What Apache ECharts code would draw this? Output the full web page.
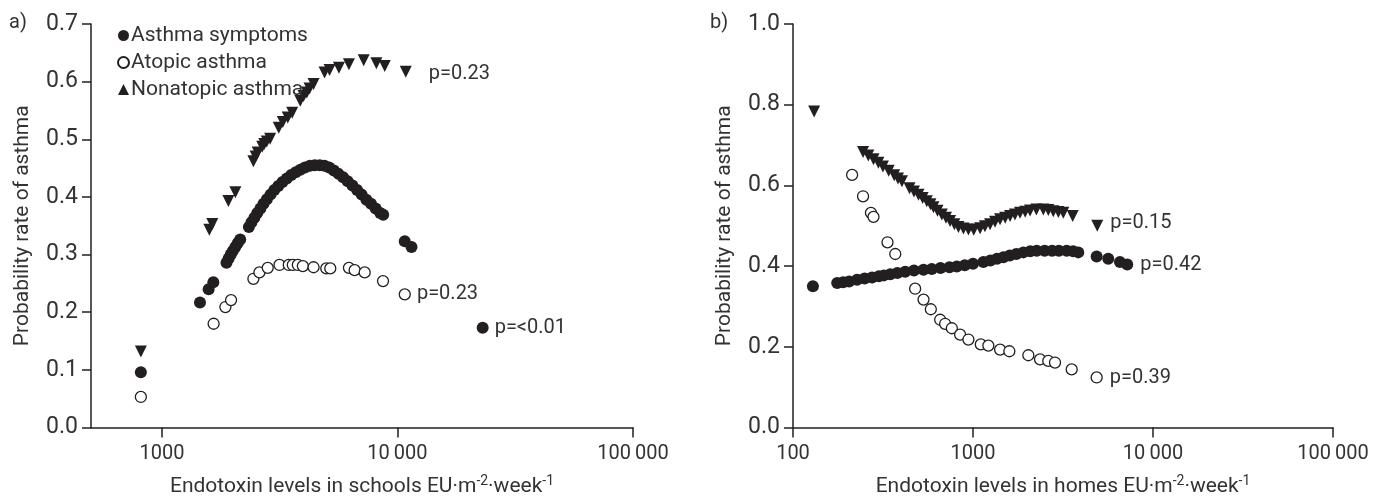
<!DOCTYPE html>
<html>
<head>
<meta charset="utf-8">
<script src="https://cdn.jsdelivr.net/npm/echarts@6/dist/echarts.min.js"></script>
<style>
  html, body { margin: 0; padding: 0; background: #fff; }
  #main { width: 1385px; height: 502px; }
</style>
</head>
<body>
<div id="main"></div>
<script>
// values: [endotoxin EU/m2/week, probability]
const schoolSymptoms = [
  [814, 0.096], [1451, 0.217], [1579, 0.240], [1653, 0.252],
  [1880, 0.286], [1920, 0.293], [1960, 0.300], [2000, 0.306], [2050, 0.313], [2100, 0.320], [2150, 0.326],
  [2340, 0.348], [2400, 0.356], [2470, 0.364], [2540, 0.372], [2620, 0.380], [2700, 0.388], [2790, 0.396],
  [2890, 0.404], [3000, 0.412], [3120, 0.419], [3250, 0.426], [3390, 0.432], [3540, 0.438], [3700, 0.443],
  [3870, 0.447], [4050, 0.451], [4250, 0.454], [4460, 0.455], [4680, 0.455], [4900, 0.454], [5130, 0.451],
  [5370, 0.446], [5620, 0.440], [5880, 0.434], [6150, 0.427], [6440, 0.420], [6740, 0.412], [7050, 0.404],
  [7380, 0.395], [7720, 0.388], [8080, 0.380], [8450, 0.372], [8700, 0.369],
  [10740, 0.323], [11470, 0.313], [23000, 0.173]
];
const schoolAtopic = [
  [814, 0.053], [1658, 0.180], [1860, 0.209], [1966, 0.221], [2446, 0.258], [2594, 0.269], [2814, 0.277],
  [3156, 0.282], [3457, 0.282], [3595, 0.282], [3776, 0.282], [3966, 0.280], [4404, 0.278], [4987, 0.276],
  [5186, 0.276], [6223, 0.277], [6580, 0.273], [7259, 0.269], [8684, 0.254], [10740, 0.231]
];
const schoolNonatopic = [
  [814, 0.132], [1590, 0.343], [1637, 0.353], [1915, 0.393], [2051, 0.408],
  [2446, 0.462], [2500, 0.470], [2551, 0.477], [2665, 0.487], [2720, 0.492], [2787, 0.496], [2881, 0.501],
  [3134, 0.520], [3260, 0.530], [3423, 0.538], [3574, 0.546], [3866, 0.567], [3993, 0.575], [4124, 0.581],
  [4235, 0.588], [4404, 0.596], [4905, 0.616], [5151, 0.620], [5643, 0.624], [6223, 0.630], [7189, 0.637],
  [8140, 0.632], [8831, 0.627], [10847, 0.617]
];
const homeSymptoms = [
  [129, 0.350], [176, 0.358], [190, 0.360], [205, 0.362], [227, 0.366], [250, 0.369], [275, 0.372],
  [300, 0.375], [320, 0.377], [347, 0.380], [380, 0.383], [420, 0.386], [470, 0.389], [531, 0.391],
  [590, 0.393], [660, 0.395], [740, 0.397], [813, 0.399], [900, 0.402], [1000, 0.406], [1142, 0.410],
  [1250, 0.414], [1360, 0.418], [1475, 0.422], [1600, 0.426], [1740, 0.430], [1905, 0.434], [2080, 0.437],
  [2260, 0.438], [2500, 0.438], [2750, 0.438], [3000, 0.438], [3315, 0.438], [3600, 0.437], [3846, 0.434],
  [4864, 0.424], [5641, 0.418], [6551, 0.410], [7194, 0.404]
];
const homeAtopic = [
  [213, 0.626], [245, 0.573], [271, 0.532], [280, 0.522], [335, 0.459], [370, 0.430], [477, 0.344],
  [531, 0.317], [583, 0.293], [657, 0.267], [700, 0.257], [763, 0.246], [848, 0.230], [943, 0.218],
  [1105, 0.206], [1217, 0.203], [1414, 0.193], [1592, 0.189], [2030, 0.179], [2357, 0.169], [2620, 0.165],
  [2855, 0.161], [3534, 0.144], [4864, 0.124]
];
const homeNonatopic = [
  [131, 0.783], [245, 0.683], [262, 0.674], [280, 0.665], [298, 0.656], [316, 0.647], [340, 0.636],
  [365, 0.625], [383, 0.617], [403, 0.610], [444, 0.593], [470, 0.585], [498, 0.577], [525, 0.569],
  [554, 0.561], [580, 0.553], [603, 0.546], [635, 0.537], [671, 0.528], [708, 0.520], [746, 0.512],
  [788, 0.504], [830, 0.497], [885, 0.493], [943, 0.491], [1010, 0.490], [1095, 0.494], [1165, 0.499],
  [1244, 0.504], [1325, 0.510], [1414, 0.516], [1510, 0.520], [1607, 0.524], [1710, 0.528], [1825, 0.532],
  [1950, 0.535], [2075, 0.538], [2250, 0.540], [2459, 0.540], [2620, 0.539], [2794, 0.536], [2980, 0.534],
  [3175, 0.532], [3579, 0.524], [4900, 0.500]
];
const schoolTicks = [1000, 10000, 100000];
const homeTicks = [100, 1000, 10000, 100000];
const schoolPValues = ["p=<0.01", "p=0.23", "p=0.23"];
const homePValues = ["p=0.42", "p=0.39", "p=0.15"];
const seriesNames = ["Asthma symptoms", "Atopic asthma", "Nonatopic asthma"];

const ink = "#231f20";
const textColor = "#333";
const font = "Roboto, 'DejaVu Sans', sans-serif";

// put the p-value label on the last point of a series
function lastLabelled(points, text, dist, dy) {
  return points.map((p, i) => {
    if (i < points.length - 1) return p;
    return {
      value: p,
      label: {
        show: true, position: "right", distance: dist, offset: [0, dy || 0],
        formatter: text, color: textColor, fontSize: 20, fontFamily: font
      }
    };
  });
}

const markStyles = [
  { symbol: "circle", symbolSize: 12, itemStyle: { color: ink, opacity: 1 } },
  { symbol: "circle", symbolSize: 11, itemStyle: { color: "#fff", borderColor: ink, borderWidth: 1.3, opacity: 1 } },
  { symbol: "triangle", symbolSize: 12, symbolRotate: 180, itemStyle: { color: ink, opacity: 1 } }
];

function makeSeries(idx, points, text, dist, dy) {
  return Object.assign({
    name: seriesNames[idx % 3],
    type: "scatter",
    xAxisIndex: idx < 3 ? 0 : 1,
    yAxisIndex: idx < 3 ? 0 : 1,
    data: lastLabelled(points, text, dist, dy),
    silent: true
  }, markStyles[idx % 3]);
}

function xAxisFor(gridIndex, min, max, ticks, name) {
  return {
    type: "log", logBase: 10, gridIndex, min, max,
    name, nameLocation: "middle", nameGap: 47,
    nameTextStyle: {
      color: textColor, fontSize: 21, fontFamily: font,
      rich: { sup: { fontSize: 14, color: textColor, fontFamily: font, padding: [0, 0, 10, 0] } }
    },
    axisLine: { lineStyle: { color: ink, width: 1.5 } },
    axisTick: { length: 10, customValues: ticks, lineStyle: { color: ink, width: 1.5 } },
    axisLabel: {
      customValues: ticks, margin: 16, color: textColor, fontSize: 20, fontFamily: font,
      formatter: v => v >= 10000 ? String(v).replace(/(\d)(?=(\d{3})+$)/g, "$1\u2009") : String(v)
    },
    splitLine: { show: false }
  };
}

function yAxisFor(gridIndex, max, interval) {
  return {
    type: "value", gridIndex, min: 0, max, interval,
    name: "Probability rate of asthma", nameLocation: "middle", nameGap: 58,
    nameTextStyle: { color: textColor, fontSize: 21, fontFamily: font },
    axisLine: { show: true, lineStyle: { color: ink, width: 1.5 } },
    axisTick: { show: true, length: 9, lineStyle: { color: ink, width: 1.5 } },
    axisLabel: { margin: 13, color: textColor, fontSize: 23, fontFamily: font, formatter: v => v.toFixed(1) },
    splitLine: { show: false }
  };
}

const chart = echarts.init(document.getElementById("main"), null, { renderer: "canvas" });
chart.setOption({
  backgroundColor: "#fff",
  animation: false,
  grid: [
    { left: 91, right: 752, top: 24, bottom: 70 },
    { left: 793, right: 52, top: 24, bottom: 70 }
  ],
  xAxis: [
    xAxisFor(0, 500, 100000, schoolTicks, "Endotoxin levels in schools EU·m{sup|-2}·week{sup|-1}"),
    xAxisFor(1, 100, 100000, homeTicks, "Endotoxin levels in homes EU·m{sup|-2}·week{sup|-1}")
  ],
  yAxis: [yAxisFor(0, 0.7, 0.1), yAxisFor(1, 1.0, 0.2)],
  legend: {
    orient: "vertical", left: 112, top: 20, itemGap: 6,
    itemWidth: 11, itemHeight: 11, selectedMode: false, symbolRotate: 0,
    textStyle: { color: textColor, fontSize: 21, fontFamily: font, lineHeight: 20, padding: [0, 0, 0, -3] },
    data: [
      { name: seriesNames[0], icon: "circle" },
      { name: seriesNames[1], icon: "circle" },
      { name: seriesNames[2], icon: "triangle" }
    ]
  },
  graphic: [
    { type: "text", left: 9, top: 13, style: { text: "a)", fill: textColor, fontSize: 20, fontFamily: font } },
    { type: "text", left: 710, top: 13, style: { text: "b)", fill: textColor, fontSize: 20, fontFamily: font } }
  ],
  series: [
    makeSeries(0, schoolSymptoms, schoolPValues[0], 6, 0),
    makeSeries(1, schoolAtopic, schoolPValues[1], 6, 0),
    makeSeries(2, schoolNonatopic, schoolPValues[2], 17, 2),
    makeSeries(3, homeSymptoms, homePValues[0], 7, 1),
    makeSeries(4, homeAtopic, homePValues[1], 7, 1),
    makeSeries(5, homeNonatopic, homePValues[2], 7, -3)
  ]
});
</script>
</body>
</html>
